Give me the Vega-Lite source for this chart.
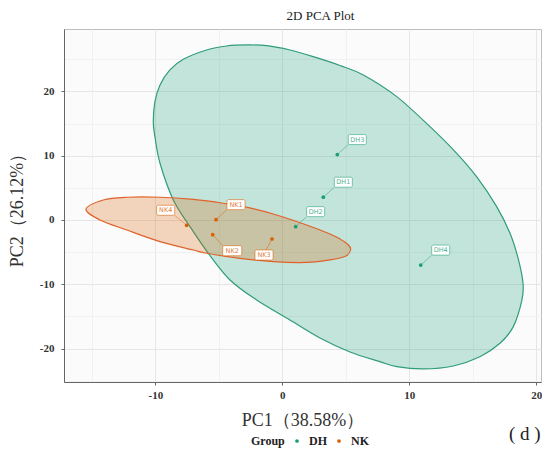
{
  "$schema": "https://vega.github.io/schema/vega-lite/v6.json",
  "width": 477,
  "height": 353,
  "autosize": {"type": "none"},
  "padding": {"left": 64, "top": 29, "right": 1, "bottom": 67},
  "background": "white",
  "config": {
    "view": {"fill": "#fbfbfb", "stroke": "#bdbdbd"},
    "axis": {
      "labelFont": "Liberation Serif",
      "labelFontSize": 11,
      "labelFontWeight": "bold",
      "labelColor": "#333333",
      "titleFont": "Liberation Serif",
      "titleFontSize": 18,
      "titleFontWeight": "normal",
      "titleColor": "#333333",
      "domainColor": "#666666",
      "tickColor": "#666666",
      "tickSize": 3
    }
  },
  "title": {
    "text": "2D PCA Plot",
    "font": "Liberation Serif",
    "fontSize": 13,
    "fontWeight": "normal",
    "color": "#222222",
    "anchor": "middle",
    "dx": 18,
    "offset": 6
  },
  "datasets": {
    "pts": [
      {"Sample": "DH1", "Group": "DH", "PC1": 3.23, "PC2": 3.54},
      {"Sample": "DH2", "Group": "DH", "PC1": 1.05, "PC2": -1.04},
      {"Sample": "DH3", "Group": "DH", "PC1": 4.33, "PC2": 10.17},
      {"Sample": "DH4", "Group": "DH", "PC1": 10.9, "PC2": -7.02},
      {"Sample": "NK1", "Group": "NK", "PC1": -5.22, "PC2": 0.05},
      {"Sample": "NK2", "Group": "NK", "PC1": -5.48, "PC2": -2.29},
      {"Sample": "NK3", "Group": "NK", "PC1": -0.81, "PC2": -2.96},
      {"Sample": "NK4", "Group": "NK", "PC1": -7.53, "PC2": -0.83}
    ],
    "ell": [
      {"Group": "DH", "i": 1, "PC1": -10.16, "PC2": 15.29},
      {"Group": "DH", "i": 2, "PC1": -10.03, "PC2": 18.4},
      {"Group": "DH", "i": 3, "PC1": -9.63, "PC2": 21.0},
      {"Group": "DH", "i": 4, "PC1": -8.85, "PC2": 23.33},
      {"Group": "DH", "i": 5, "PC1": -7.8, "PC2": 24.99},
      {"Group": "DH", "i": 6, "PC1": -5.96, "PC2": 26.44},
      {"Group": "DH", "i": 7, "PC1": -4.38, "PC2": 27.06},
      {"Group": "DH", "i": 8, "PC1": -2.81, "PC2": 27.22},
      {"Group": "DH", "i": 9, "PC1": -1.23, "PC2": 27.11},
      {"Group": "DH", "i": 10, "PC1": 0.6, "PC2": 26.44},
      {"Group": "DH", "i": 11, "PC1": 2.44, "PC2": 25.4},
      {"Group": "DH", "i": 12, "PC1": 4.54, "PC2": 24.03},
      {"Group": "DH", "i": 13, "PC1": 6.38, "PC2": 22.55},
      {"Group": "DH", "i": 14, "PC1": 9.01, "PC2": 19.18},
      {"Group": "DH", "i": 15, "PC1": 11.63, "PC2": 14.51},
      {"Group": "DH", "i": 16, "PC1": 13.73, "PC2": 10.37},
      {"Group": "DH", "i": 17, "PC1": 15.3, "PC2": 6.73},
      {"Group": "DH", "i": 18, "PC1": 16.88, "PC2": 2.07},
      {"Group": "DH", "i": 19, "PC1": 17.93, "PC2": -2.07},
      {"Group": "DH", "i": 20, "PC1": 18.56, "PC2": -5.91},
      {"Group": "DH", "i": 21, "PC1": 18.95, "PC2": -9.8},
      {"Group": "DH", "i": 22, "PC1": 18.87, "PC2": -12.44},
      {"Group": "DH", "i": 23, "PC1": 18.19, "PC2": -16.59},
      {"Group": "DH", "i": 24, "PC1": 17.14, "PC2": -19.18},
      {"Group": "DH", "i": 25, "PC1": 15.56, "PC2": -21.26},
      {"Group": "DH", "i": 26, "PC1": 13.46, "PC2": -22.71},
      {"Group": "DH", "i": 27, "PC1": 11.1, "PC2": -23.17},
      {"Group": "DH", "i": 28, "PC1": 9.01, "PC2": -22.81},
      {"Group": "DH", "i": 29, "PC1": 7.69, "PC2": -22.04},
      {"Group": "DH", "i": 30, "PC1": 5.33, "PC2": -20.53},
      {"Group": "DH", "i": 31, "PC1": 2.97, "PC2": -18.35},
      {"Group": "DH", "i": 32, "PC1": 0.6, "PC2": -15.55},
      {"Group": "DH", "i": 33, "PC1": -2.02, "PC2": -12.44},
      {"Group": "DH", "i": 34, "PC1": -4.12, "PC2": -9.33},
      {"Group": "DH", "i": 35, "PC1": -5.83, "PC2": -5.18},
      {"Group": "DH", "i": 36, "PC1": -7.27, "PC2": -1.04},
      {"Group": "DH", "i": 37, "PC1": -8.58, "PC2": 3.11},
      {"Group": "DH", "i": 38, "PC1": -9.63, "PC2": 8.82},
      {"Group": "DH", "i": 39, "PC1": -10.03, "PC2": 12.95},
      {"Group": "NK", "i": 1, "PC1": -15.46, "PC2": 1.66},
      {"Group": "NK", "i": 2, "PC1": -14.1, "PC2": 3.11},
      {"Group": "NK", "i": 3, "PC1": -12.25, "PC2": 3.53},
      {"Group": "NK", "i": 4, "PC1": -9.63, "PC2": 3.53},
      {"Group": "NK", "i": 5, "PC1": -7.01, "PC2": 3.19},
      {"Group": "NK", "i": 6, "PC1": -4.65, "PC2": 2.6},
      {"Group": "NK", "i": 7, "PC1": -2.55, "PC2": 1.87},
      {"Group": "NK", "i": 8, "PC1": -0.71, "PC2": 0.93},
      {"Group": "NK", "i": 9, "PC1": 1.92, "PC2": -0.78},
      {"Group": "NK", "i": 10, "PC1": 3.75, "PC2": -2.18},
      {"Group": "NK", "i": 11, "PC1": 4.54, "PC2": -2.95},
      {"Group": "NK", "i": 12, "PC1": 5.17, "PC2": -3.81},
      {"Group": "NK", "i": 13, "PC1": 5.38, "PC2": -4.59},
      {"Group": "NK", "i": 14, "PC1": 5.01, "PC2": -5.6},
      {"Group": "NK", "i": 15, "PC1": 3.75, "PC2": -6.22},
      {"Group": "NK", "i": 16, "PC1": 1.92, "PC2": -6.61},
      {"Group": "NK", "i": 17, "PC1": -0.71, "PC2": -6.49},
      {"Group": "NK", "i": 18, "PC1": -3.33, "PC2": -5.96},
      {"Group": "NK", "i": 19, "PC1": -5.96, "PC2": -5.18},
      {"Group": "NK", "i": 20, "PC1": -7.01, "PC2": -4.67},
      {"Group": "NK", "i": 21, "PC1": -9.63, "PC2": -3.37},
      {"Group": "NK", "i": 22, "PC1": -12.25, "PC2": -1.56},
      {"Group": "NK", "i": 23, "PC1": -14.36, "PC2": 0.0}
    ],
    "note": [
      {"tag": "( d )", "PC1": 19.1, "PC2": -20}
    ]
  },
  "encoding": {
    "x": {
      "field": "PC1",
      "type": "quantitative",
      "scale": {"domain": [-17.19, 20.37], "nice": false, "zero": false},
      "axis": {
        "title": "PC1（38.58%）",
        "values": [-15, -10, -5, 0, 5, 10, 15, 20],
        "labelExpr": "datum.value % 10 === 0 ? '' + datum.value : ''",
        "tickOpacity": {"condition": {"test": "datum.value % 10 !== 0", "value": 0}, "value": 1},
        "gridColor": {"condition": {"test": "datum.value % 10 !== 0", "value": "#f1f1f1"}, "value": "#e6e6e6"},
        "labelPadding": 4,
        "titlePadding": 11
      }
    },
    "y": {
      "field": "PC2",
      "type": "quantitative",
      "scale": {"domain": [-25.2, 29.7], "nice": false, "zero": false},
      "axis": {
        "title": "PC2（26.12%）",
        "values": [-25, -20, -15, -10, -5, 0, 5, 10, 15, 20, 25],
        "labelExpr": "datum.value % 10 === 0 ? '' + datum.value : ''",
        "tickOpacity": {"condition": {"test": "datum.value % 10 !== 0", "value": 0}, "value": 1},
        "gridColor": {"condition": {"test": "datum.value % 10 !== 0", "value": "#f1f1f1"}, "value": "#e6e6e6"},
        "labelPadding": 7,
        "titlePadding": 13
      }
    }
  },
  "layer": [
    {
      "data": {"name": "ell"},
      "transform": [{"filter": "datum.Group === 'DH'"}],
      "mark": {"type": "line", "interpolate": "cardinal-closed", "fill": "#1b9e77", "fillOpacity": 0.25, "stroke": "#2f9c7a", "strokeWidth": 1.2},
      "encoding": {"order": {"field": "i", "type": "quantitative"}}
    },
    {
      "data": {"name": "ell"},
      "transform": [{"filter": "datum.Group === 'NK'"}],
      "mark": {"type": "line", "interpolate": "cardinal-closed", "fill": "#d95f02", "fillOpacity": 0.25, "stroke": "#e0622a", "strokeWidth": 1.2},
      "encoding": {"order": {"field": "i", "type": "quantitative"}}
    },
    {
      "data": {"name": "pts"},
      "transform": [{"filter": "datum.Group === 'DH'"}],
      "layer": [
        {"mark": {"type": "rule", "x2Offset": 11, "y2Offset": -10, "strokeWidth": 0.8, "opacity": 0.6, "color": "#1b9e77"}, "encoding": {"x2": {"field": "PC1"}, "y2": {"field": "PC2"}}},
        {"mark": {"type": "rect", "xOffset": 11, "x2Offset": 29, "yOffset": -20, "y2Offset": -10, "fill": "white", "stroke": "#1b9e77", "cornerRadius": 1.5, "strokeWidth": 1, "strokeOpacity": 0.55}, "encoding": {"x2": {"field": "PC1"}, "y2": {"field": "PC2"}}},
        {"mark": {"type": "text", "dx": 20, "dy": -15, "font": "DejaVu Sans", "fontSize": 6.5, "opacity": 0.8, "baseline": "middle", "align": "center", "color": "#1b9e77"}, "encoding": {"text": {"field": "Sample"}}}
      ]
    },
    {
      "data": {"name": "pts"},
      "transform": [{"filter": "datum.Sample === 'NK1'"}],
      "layer": [
        {"mark": {"type": "rule", "x2Offset": 11, "y2Offset": -10, "strokeWidth": 0.8, "opacity": 0.6, "color": "#d95f02"}, "encoding": {"x2": {"field": "PC1"}, "y2": {"field": "PC2"}}},
        {"mark": {"type": "rect", "xOffset": 11, "x2Offset": 29, "yOffset": -20, "y2Offset": -10, "fill": "white", "stroke": "#d95f02", "cornerRadius": 1.5, "strokeWidth": 1, "strokeOpacity": 0.55}, "encoding": {"x2": {"field": "PC1"}, "y2": {"field": "PC2"}}},
        {"mark": {"type": "text", "dx": 20, "dy": -15, "font": "DejaVu Sans", "fontSize": 6.5, "opacity": 0.8, "baseline": "middle", "align": "center", "color": "#d95f02"}, "encoding": {"text": {"field": "Sample"}}}
      ]
    },
    {
      "data": {"name": "pts"},
      "transform": [{"filter": "datum.Sample === 'NK4'"}],
      "layer": [
        {"mark": {"type": "rule", "x2Offset": -12, "y2Offset": -10, "strokeWidth": 0.8, "opacity": 0.6, "color": "#d95f02"}, "encoding": {"x2": {"field": "PC1"}, "y2": {"field": "PC2"}}},
        {"mark": {"type": "rect", "xOffset": -30, "x2Offset": -12, "yOffset": -20, "y2Offset": -10, "fill": "white", "stroke": "#d95f02", "cornerRadius": 1.5, "strokeWidth": 1, "strokeOpacity": 0.55}, "encoding": {"x2": {"field": "PC1"}, "y2": {"field": "PC2"}}},
        {"mark": {"type": "text", "dx": -21, "dy": -15, "font": "DejaVu Sans", "fontSize": 6.5, "opacity": 0.8, "baseline": "middle", "align": "center", "color": "#d95f02"}, "encoding": {"text": {"field": "Sample"}}}
      ]
    },
    {
      "data": {"name": "pts"},
      "transform": [{"filter": "datum.Sample === 'NK2'"}],
      "layer": [
        {"mark": {"type": "rule", "x2Offset": 10, "y2Offset": 11, "strokeWidth": 0.8, "opacity": 0.6, "color": "#d95f02"}, "encoding": {"x2": {"field": "PC1"}, "y2": {"field": "PC2"}}},
        {"mark": {"type": "rect", "xOffset": 10, "x2Offset": 29, "yOffset": 11, "y2Offset": 21, "fill": "white", "stroke": "#d95f02", "cornerRadius": 1.5, "strokeWidth": 1, "strokeOpacity": 0.55}, "encoding": {"x2": {"field": "PC1"}, "y2": {"field": "PC2"}}},
        {"mark": {"type": "text", "dx": 19.5, "dy": 16, "font": "DejaVu Sans", "fontSize": 6.5, "opacity": 0.8, "baseline": "middle", "align": "center", "color": "#d95f02"}, "encoding": {"text": {"field": "Sample"}}}
      ]
    },
    {
      "data": {"name": "pts"},
      "transform": [{"filter": "datum.Sample === 'NK3'"}],
      "layer": [
        {"mark": {"type": "rule", "x2Offset": -6, "y2Offset": 11, "strokeWidth": 0.8, "opacity": 0.6, "color": "#d95f02"}, "encoding": {"x2": {"field": "PC1"}, "y2": {"field": "PC2"}}},
        {"mark": {"type": "rect", "xOffset": -17, "x2Offset": 1, "yOffset": 11, "y2Offset": 21, "fill": "white", "stroke": "#d95f02", "cornerRadius": 1.5, "strokeWidth": 1, "strokeOpacity": 0.55}, "encoding": {"x2": {"field": "PC1"}, "y2": {"field": "PC2"}}},
        {"mark": {"type": "text", "dx": -8, "dy": 16, "font": "DejaVu Sans", "fontSize": 6.5, "opacity": 0.8, "baseline": "middle", "align": "center", "color": "#d95f02"}, "encoding": {"text": {"field": "Sample"}}}
      ]
    },
    {
      "data": {"name": "pts"},
      "mark": {"type": "point", "filled": true, "size": 14, "opacity": 1},
      "encoding": {
        "color": {
          "field": "Group",
          "type": "nominal",
          "scale": {"domain": ["DH", "NK"], "range": ["#1b9e77", "#d95f02"]},
          "legend": {
            "orient": "none",
            "legendX": 187,
            "legendY": 406,
            "direction": "horizontal",
            "title": "Group",
            "titleOrient": "left",
            "titleFont": "Liberation Serif",
            "titleFontSize": 12,
            "titleFontWeight": "bold",
            "titleColor": "#222222",
            "titlePadding": 6,
            "labelFont": "Liberation Serif",
            "labelFontSize": 12,
            "labelFontWeight": "bold",
            "labelColor": "#222222",
            "labelOffset": 6,
            "symbolType": "circle",
            "symbolSize": 14,
            "columnPadding": 6
          }
        }
      }
    },
    {
      "data": {"name": "note"},
      "mark": {"type": "text", "font": "Liberation Serif", "fontSize": 19, "color": "#222222", "align": "center", "baseline": "middle", "dy": 85, "clip": false},
      "encoding": {"text": {"field": "tag"}}
    }
  ]
}
